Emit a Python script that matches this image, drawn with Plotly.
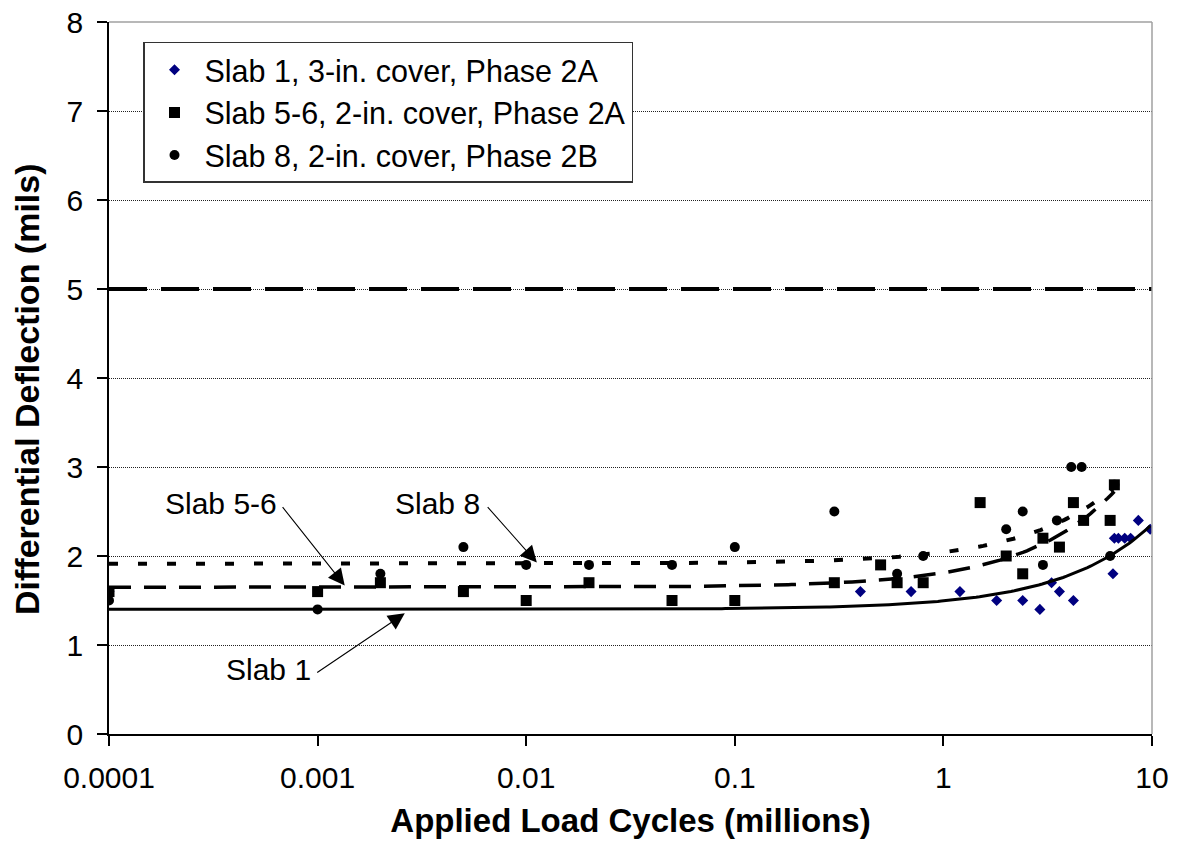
import numpy as np
import plotly.graph_objects as go

# ---------------- data ----------------
cycles_slab1 = [0.0001, 0.4, 0.7, 1.2, 1.8, 2.4, 2.9, 3.3, 3.6, 4.2, 6.5, 6.6, 6.9, 7.4, 7.9, 8.6, 9.8]
defl_slab1 = [1.6, 1.6, 1.6, 1.6, 1.5, 1.5, 1.4, 1.7, 1.6, 1.5, 1.8, 2.2, 2.2, 2.2, 2.2, 2.4, 2.3]

cycles_slab56 = [0.0001, 0.001, 0.002, 0.005, 0.01, 0.02, 0.05, 0.1, 0.3, 0.5, 0.6, 0.8,
                 1.5, 2.0, 2.4, 3.0, 3.6, 4.2, 4.7, 6.3, 6.6]
defl_slab56 = [1.6, 1.6, 1.7, 1.6, 1.5, 1.7, 1.5, 1.5, 1.7, 1.9, 1.7, 1.7,
               2.6, 2.0, 1.8, 2.2, 2.1, 2.6, 2.4, 2.4, 2.8]

cycles_slab8 = [0.0001, 0.001, 0.002, 0.005, 0.01, 0.02, 0.05, 0.1, 0.3, 0.6, 0.8,
                2.0, 2.4, 3.0, 3.5, 4.1, 4.6, 6.3, 6.6]
defl_slab8 = [1.5, 1.4, 1.8, 2.1, 1.9, 1.9, 1.9, 2.1, 2.5, 1.8, 2.0,
              2.3, 2.5, 1.9, 2.4, 3.0, 3.0, 2.0, 2.8]

series_names = ["Slab 1, 3-in. cover, Phase 2A",
                "Slab 5-6, 2-in. cover, Phase 2A",
                "Slab 8, 2-in. cover, Phase 2B"]
short_names = ["Slab 1", "Slab 5-6", "Slab 8"]

limit_deflection = 5.0

x_title = "Applied Load Cycles (millions)"
y_title = "Differential Deflection (mils)"
x_tick_vals = [0.0001, 0.001, 0.01, 0.1, 1, 10]
x_tick_text = ["0.0001", "0.001", "0.01", "0.1", "1", "10"]
y_tick_vals = [0, 1, 2, 3, 4, 5, 6, 7, 8]

# ---------------- styles ----------------
FONT = "Arial, 'Liberation Sans', sans-serif"
marker_styles = [
    dict(symbol="diamond", size=8.5, color="#000080", line=dict(width=0)),
    dict(symbol="square", size=11, color="black", line=dict(width=0)),
    dict(symbol="circle", size=10, color="black", line=dict(width=0)),
]
trend_styles = [
    dict(color="black", width=3, dash="solid"),
    dict(color="black", width=3.5, dash="22px,13px"),
    dict(color="black", width=4, dash="9px,20px"),
]

fig = go.Figure()

all_x = [cycles_slab1, cycles_slab56, cycles_slab8]
all_y = [defl_slab1, defl_slab56, defl_slab8]

for i, (xs, ys) in enumerate(zip(all_x, all_y)):
    fig.add_trace(go.Scatter(
        x=xs, y=ys, mode="markers", name=series_names[i],
        marker=marker_styles[i], legendgroup=f"g{i}",
    ))

# linear trendlines (fitted to each series, drawn over its data range)
for i, (xs, ys) in enumerate(zip(all_x, all_y)):
    slope, intercept = np.polyfit(np.array(xs), np.array(ys), 1)
    xt = np.logspace(np.log10(min(xs)), np.log10(max(xs)), 300)
    fig.add_trace(go.Scatter(
        x=xt, y=intercept + slope * xt, mode="lines",
        line=trend_styles[i], showlegend=False, hoverinfo="skip",
    ))

# 5-mil limit line
fig.add_shape(type="line", xref="paper", x0=0, x1=1, yref="y",
              y0=limit_deflection, y1=limit_deflection,
              line=dict(color="black", width=4, dash="38px,14px"), layer="above")

# grey top / right border of plot area
fig.add_shape(type="line", xref="paper", yref="paper", x0=0, x1=1, y0=1, y1=1,
              line=dict(color="#a0a0a0", width=1.5), layer="above")
fig.add_shape(type="line", xref="paper", yref="paper", x0=1, x1=1, y0=0, y1=1,
              line=dict(color="#a0a0a0", width=1.5), layer="above")

# labels with arrows (positions in log10(x), y)
label_pos = [(-3.234, 0.728), (-3.461, 2.588), (-2.424, 2.588)]
arrow_tail = [(-3.009, 0.680), (-3.1735, 2.566), (-2.191, 2.566)]
arrow_tip = [(-2.582, 1.356), (-2.870, 1.669), (-1.949, 1.927)]

for i in range(3):
    fig.add_annotation(x=label_pos[i][0], y=label_pos[i][1], text=short_names[i],
                       showarrow=False, font=dict(family=FONT, size=30, color="black"))
    fig.add_annotation(x=arrow_tip[i][0], y=arrow_tip[i][1], text="",
                       showarrow=True, axref="x", ayref="y",
                       ax=arrow_tail[i][0], ay=arrow_tail[i][1],
                       arrowhead=2, arrowsize=3, arrowwidth=1.1, arrowcolor="black",
                       standoff=0, startstandoff=0)

# y-axis title (placed as rotated text to match the reference position)
fig.add_annotation(xref="paper", yref="paper", x=-0.0786, y=0.4846,
                   xanchor="center", yanchor="middle",
                   text=f"<b>{y_title}</b>", textangle=-90, showarrow=False,
                   font=dict(family=FONT, size=34, color="black"))

fig.update_layout(
    width=1181, height=841,
    margin=dict(l=101, r=37, t=14, b=115),
    paper_bgcolor="white", plot_bgcolor="white",
    font=dict(family=FONT, size=30, color="black"),
    showlegend=True,
    legend=dict(x=0.0326, y=0.972, xanchor="left", yanchor="top",
                bgcolor="white", bordercolor="#333333", borderwidth=1.5,
                font=dict(family=FONT, size=30.5, color="black"),
                tracegroupgap=0, itemwidth=50),
)

fig.update_xaxes(
    type="log", range=[-4, 1], tickvals=x_tick_vals, ticktext=x_tick_text,
    ticks="outside", ticklen=10, tickwidth=1.5, tickcolor="black",
    showline=True, linecolor="black", linewidth=1.5, automargin=False,
    showgrid=False, zeroline=False, ticklabelstandoff=6,
    tickfont=dict(family=FONT, size=30, color="black"),
    title=dict(text=f"<b>{x_title}</b>",
               font=dict(family=FONT, size=33, color="black"), standoff=16),
)
fig.update_yaxes(
    range=[0, 8], tickvals=y_tick_vals,
    ticks="outside", ticklen=10, tickwidth=1.5, tickcolor="black",
    showline=True, linecolor="black", linewidth=1.5, automargin=False,
    showgrid=True, gridcolor="#222222", gridwidth=1, griddash="1px,1px",
    zeroline=False, ticklabelstandoff=8, ticklabeloverflow="allow",
    tickfont=dict(family=FONT, size=30, color="black"),
)

fig.write_html("out.html")
